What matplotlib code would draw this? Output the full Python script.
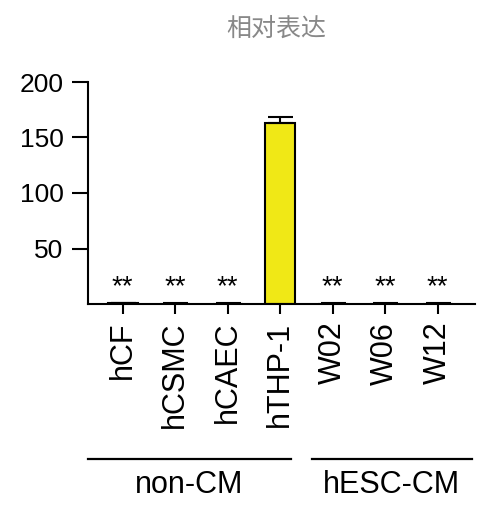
import matplotlib
matplotlib.use("Agg")
import matplotlib.pyplot as plt

plt.rcParams['font.family'] = ['Liberation Sans', 'Noto Sans CJK SC', 'DejaVu Sans']

categories = ["hCF", "hCSMC", "hCAEC", "hTHP-1", "W02", "W06", "W12"]
values = [0.5, 0.4, 0.4, 163, 0.4, 0.3, 0.3]
errors = [0.3, 0.2, 0.2, 5.5, 0.2, 0.2, 0.2]
signif = ["**", "**", "**", "", "**", "**", "**"]
groups = [("non-CM", 0, 3), ("hESC-CM", 4, 6)]
title = "相对表达"

W, H = 498, 508
fig = plt.figure(figsize=(W / 100, H / 100), dpi=100)
ax = fig.add_axes([88 / W, 1 - 304 / H, (475 - 88) / W, (304 - 82) / H])

x = list(range(len(categories)))
ax.bar(x, values, width=0.57, color="#f0e816", edgecolor="black", linewidth=1.5, zorder=2)
ax.errorbar(x, values, yerr=[[0] * len(errors), errors], fmt="none", ecolor="black",
            elinewidth=1.5, capsize=9, capthick=1.5, zorder=3)
for xi, s in zip(x, signif):
    if s:
        ax.text(xi, 15, s, ha="center", va="center", fontsize=20)

ax.set_xlim(-0.66, 6.71)
ax.set_ylim(0, 200)
ax.set_yticks([50, 100, 150, 200])
ax.set_xticks(x)
ax.set_xticklabels(categories, rotation=90, fontsize=22)
ax.tick_params(axis="y", labelsize=19, length=11.5, width=1.5, pad=6)
ax.tick_params(axis="x", length=7.2, width=1.5, pad=5.5)
for sp in ["top", "right"]:
    ax.spines[sp].set_visible(False)
for sp in ["left", "bottom"]:
    ax.spines[sp].set_linewidth(1.5)

def xfig(v):
    return ax.transData.transform((v, 0))[0] / W

fig.canvas.draw()
line_y = 1 - 459 / H
spans = {"non-CM": (-0.66, 3.2), "hESC-CM": (3.6, 6.65)}
for name, a, b in groups:
    s0, s1 = spans[name]
    fig.add_artist(plt.Line2D([xfig(s0), xfig(s1)], [line_y, line_y], color="black",
                              linewidth=1.6, transform=fig.transFigure))
    cx = (xfig(s0) + xfig(s1)) / 2
    fig.text(cx, 1 - 485 / H, name, ha="center", va="center", fontsize=22)

fig.text(276 / W, 1 - 29 / H, title, ha="center", va="center", fontsize=18, color="#888888")

fig.savefig("out.png", dpi=100)
